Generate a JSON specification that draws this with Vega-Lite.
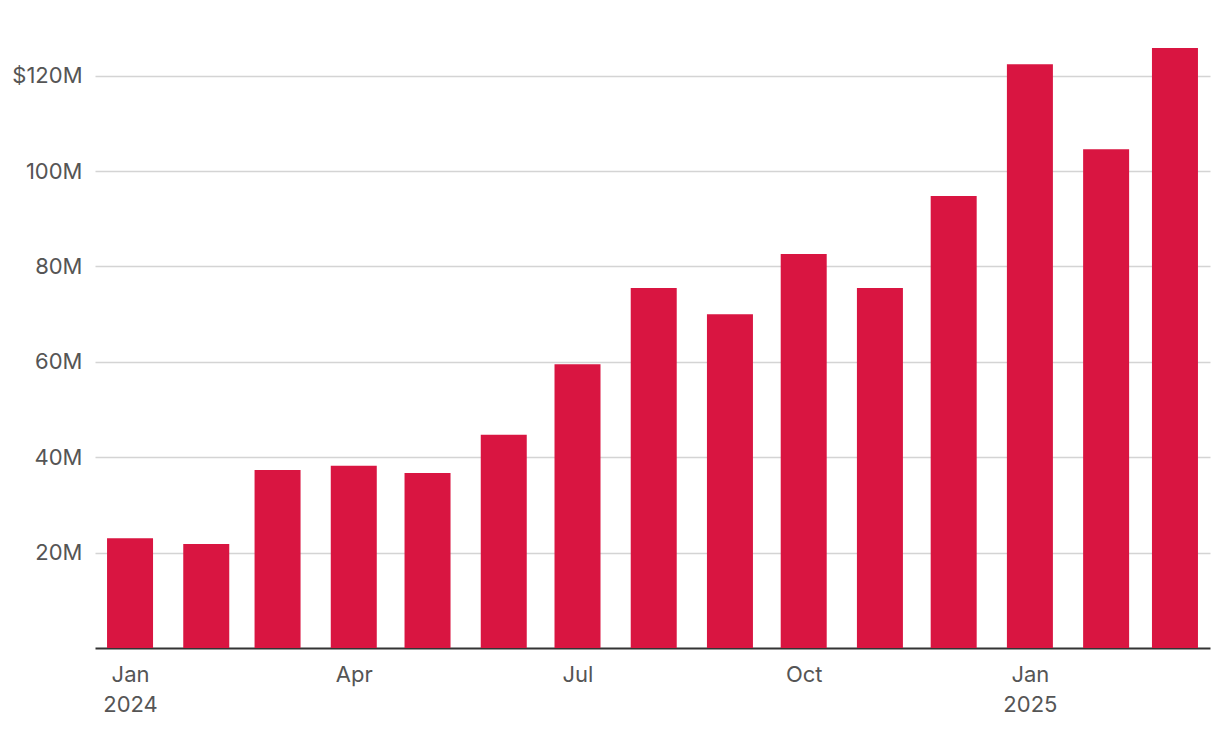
{
  "$schema": "https://vega.github.io/schema/vega-lite/v6.json",
  "autosize": {"type": "none"},
  "width": 1115,
  "height": 620,
  "padding": {"left": 95, "top": 28, "right": 10, "bottom": 88},
  "background": "white",
  "config": {
    "view": {"stroke": null},
    "font": "Inter"
  },
  "data": {
    "values": [
      {"month": "2024-01-01", "value": 23.0},
      {"month": "2024-02-01", "value": 21.8},
      {"month": "2024-03-01", "value": 37.3},
      {"month": "2024-04-01", "value": 38.2},
      {"month": "2024-05-01", "value": 36.7},
      {"month": "2024-06-01", "value": 44.7},
      {"month": "2024-07-01", "value": 59.5},
      {"month": "2024-08-01", "value": 75.5},
      {"month": "2024-09-01", "value": 70.0},
      {"month": "2024-10-01", "value": 82.6},
      {"month": "2024-11-01", "value": 75.5},
      {"month": "2024-12-01", "value": 94.8},
      {"month": "2025-01-01", "value": 122.4},
      {"month": "2025-02-01", "value": 104.6},
      {"month": "2025-03-01", "value": 125.8}
    ]
  },
  "mark": {"type": "bar", "color": "#d91541", "width": 46},
  "encoding": {
    "x": {
      "field": "month",
      "type": "temporal",
      "scale": {
        "type": "utc",
        "nice": false,
        "padding": 0,
        "domain": [
          {"year": 2023, "month": 12, "date": 17, "hours": 18, "utc": true},
          {"year": 2025, "month": 3, "date": 15, "hours": 6, "utc": true}
        ]
      },
      "axis": {
        "title": null,
        "values": [
          {"year": 2024, "month": 1, "date": 1, "utc": true},
          {"year": 2024, "month": 4, "date": 1, "utc": true},
          {"year": 2024, "month": 7, "date": 1, "utc": true},
          {"year": 2024, "month": 10, "date": 1, "utc": true},
          {"year": 2025, "month": 1, "date": 1, "utc": true}
        ],
        "labelExpr": "utcFormat(datum.value, '%m') == '01' ? [utcFormat(datum.value, '%b'), utcFormat(datum.value, '%Y')] : utcFormat(datum.value, '%b')",
        "grid": false,
        "ticks": false,
        "domain": true,
        "domainColor": "#333333",
        "domainWidth": 2,
        "labelFont": "Inter",
        "labelFontSize": 22,
        "labelColor": "#555555",
        "labelPadding": 16,
        "labelLineHeight": 30,
        "labelAlign": "center",
        "labelFlush": false,
        "labelOverlap": false
      }
    },
    "y": {
      "field": "value",
      "type": "quantitative",
      "scale": {"domain": [0, 130], "nice": false},
      "axis": {
        "title": null,
        "values": [20, 40, 60, 80, 100, 120],
        "labelExpr": "datum.value == 120 ? '$120M' : datum.value + 'M'",
        "domain": false,
        "ticks": false,
        "grid": true,
        "gridColor": "#d4d4d4",
        "gridWidth": 1.5,
        "labelFont": "Inter",
        "labelFontSize": 22,
        "labelColor": "#555555",
        "labelPadding": 13,
        "labelBaseline": "middle"
      }
    }
  }
}
